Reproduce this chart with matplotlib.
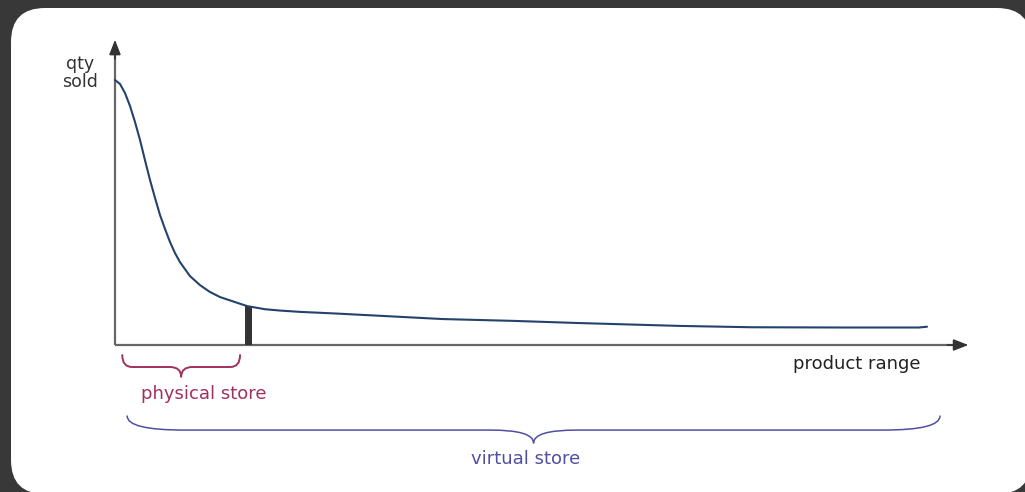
import matplotlib
matplotlib.use("Agg")
import matplotlib.pyplot as plt
from matplotlib.patches import FancyBboxPatch, PathPatch
from matplotlib.path import Path
from matplotlib.transforms import IdentityTransform

# ---- data ----
rank = [0, 0.62, 1.23, 1.85, 2.46, 3.08, 3.69, 4.31, 4.93, 5.54, 6.16, 6.77,
        7.39, 8.0, 9.24, 10.47, 11.7, 12.93, 14.78, 16.26, 18.47, 20.32, 22.8,
        27.1, 33.4, 40.3, 49.1, 57.0, 69.6, 78.4, 90.0, 99.0, 100.0]
qty = [100.0, 98.5, 95.1, 90.2, 84.2, 77.4, 69.8, 62.3, 55.5, 49.1, 43.8, 38.9,
       34.7, 31.3, 26.0, 22.6, 20.0, 18.1, 16.2, 14.7, 13.5, 13.0, 12.5,
       11.9, 10.9, 9.8, 9.1, 8.3, 7.2, 6.7, 6.6, 6.6, 6.9]
cutoff_rank = 16.4
cutoff_qty = 14.6
physical_range = (0.9, 15.4)
virtual_range = (1.5, 101.6)

y_label = "qty\nsold"
x_label = "product range"
physical_label = "physical store"
virtual_label = "virtual store"

# ---- figure ----
W, H = 1025, 492
fig = plt.figure(figsize=(W / 100, H / 100), dpi=100, facecolor="#383838")
ax = fig.add_axes([0, 0, 1, 1])
ax.patch.set_visible(False)
ax.set_axis_off()
ax.set_xlim(-14.16, 112.07)
ax.set_ylim(-55.47, 130.19)

# white rounded panel
panel = FancyBboxPatch((11, -2), 1020, 486, boxstyle="round,pad=0,rounding_size=34",
                       transform=IdentityTransform(), facecolor="white",
                       edgecolor="none", zorder=0, clip_on=False)
ax.add_patch(panel)

axis_col = "#666666"
head_col = "#333333"
# axes lines with arrow heads
ax.plot([0, 103.5], [0, 0], color=axis_col, lw=1.6, zorder=2, solid_capstyle="butt")
ax.plot([0, 0], [0, 111], color=axis_col, lw=1.6, zorder=2, solid_capstyle="butt")
ax.annotate("", xy=(105.1, 0), xytext=(102.5, 0),
            arrowprops=dict(arrowstyle="-|>,head_length=0.9,head_width=0.35",
                            color=head_col, lw=1.2, shrinkA=0, shrinkB=0), zorder=3)
ax.annotate("", xy=(0, 115.2), xytext=(0, 108),
            arrowprops=dict(arrowstyle="-|>,head_length=0.9,head_width=0.35",
                            color=head_col, lw=1.2, shrinkA=0, shrinkB=0), zorder=3)

# demand curve
ax.plot(rank, qty, color="#24426b", lw=1.5, zorder=4, solid_joinstyle="round",
        solid_capstyle="round")

# physical store cutoff bar
ax.bar([cutoff_rank], [cutoff_qty], width=0.86, color="#333333", zorder=3)


def brace(x0, x1, ytop, yline, ytip, end_w, cw, color, lw):
    xc = (x0 + x1) / 2
    verts = [(x0, ytop), (x0, yline), (x0 + end_w, yline),
             (xc - cw, yline),
             (xc, yline), (xc, ytip),
             (xc, yline), (xc + cw, yline),
             (x1 - end_w, yline),
             (x1, yline), (x1, ytop)]
    codes = [Path.MOVETO, Path.CURVE3, Path.CURVE3,
             Path.LINETO,
             Path.CURVE3, Path.CURVE3,
             Path.CURVE3, Path.CURVE3,
             Path.LINETO,
             Path.CURVE3, Path.CURVE3]
    ax.add_patch(PathPatch(Path(verts, codes), facecolor="none", edgecolor=color,
                           lw=lw, zorder=3, capstyle="round", joinstyle="round"))


phys_col = "#a0305e"
virt_col = "#4f4fa3"
brace(physical_range[0], physical_range[1], -3.8, -8.3, -12.0, 1.2, 1.4, phys_col, 1.4)
brace(virtual_range[0], virtual_range[1], -26.8, -32.1, -37.0, 7.0, 5.3, virt_col, 1.1)

font = "DejaVu Sans"
ax.text(-4.3, 102.6, y_label, ha="center", va="center", fontsize=12.5, color="#333333",
        family=font, linespacing=0.95)
ax.text(91.4, -7.2, x_label, ha="center", va="center", fontsize=13, color="#222222",
        family=font)
ax.text(10.9, -18.5, physical_label, ha="center", va="center", fontsize=13,
        color=phys_col, family=font)
ax.text(50.6, -43.0, virtual_label, ha="center", va="center", fontsize=13,
        color=virt_col, family=font)

fig.savefig("out.png", dpi=100, facecolor=fig.get_facecolor())
